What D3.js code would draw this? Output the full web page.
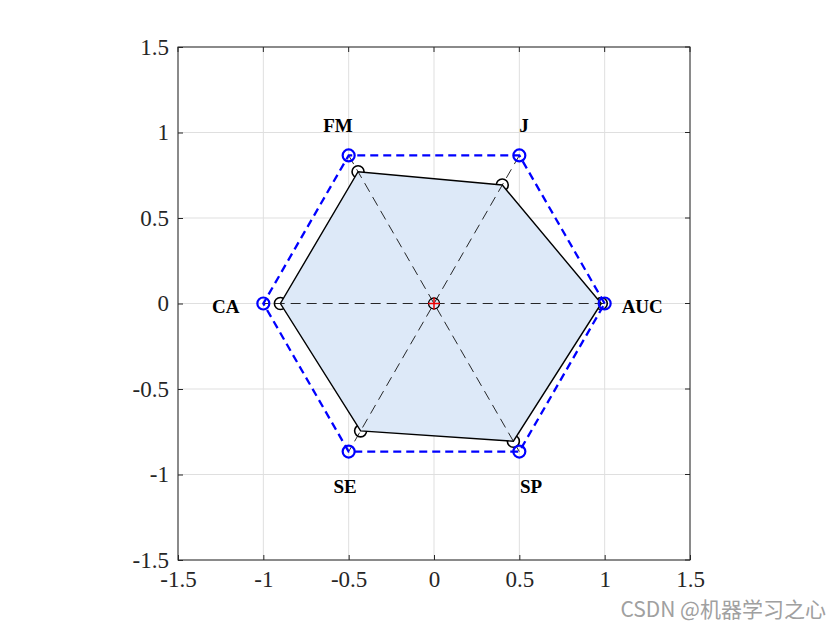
<!DOCTYPE html>
<html><head><meta charset="utf-8">
<script src="https://cdn.jsdelivr.net/npm/d3@7"></script>
<style>body{margin:0;background:#fff}svg{display:block}</style>
</head><body>
<svg id="c" width="840" height="630"></svg>
<script>
const categories = ["AUC","J","FM","CA","SE","SP"];
const angles = [0,60,120,180,240,300];
const values = [0.98,0.80,0.89,0.90,0.86,0.93];
const maxValues = [1,1,1,1,1,1];
const ticks = [-1.5,-1,-0.5,0,0.5,1,1.5];

const FONT = "'Liberation Serif','Times New Roman',Times,serif";
const svg = d3.select("#c");
const L=178,T=47,W=512,H=513;
const x = d3.scaleLinear().domain([-1.5,1.5]).range([L,L+W]);
const y = d3.scaleLinear().domain([-1.5,1.5]).range([T+H,T]);
const rad = a => a*Math.PI/180;
const pt = (r,a) => [x(r*Math.cos(rad(a))), y(r*Math.sin(rad(a)))];

// grid
const g = svg.append("g");
ticks.forEach(t=>{
  g.append("line").attr("x1",x(t)).attr("x2",x(t)).attr("y1",T).attr("y2",T+H).attr("stroke","#dfdfdf").attr("stroke-width",1);
  g.append("line").attr("y1",y(t)).attr("y2",y(t)).attr("x1",L).attr("x2",L+W).attr("stroke","#dfdfdf").attr("stroke-width",1);
});

// black data circle markers (under fill)
const dataPts = values.map((v,i)=>pt(v,angles[i]));
svg.append("g").selectAll("circle").data(dataPts).join("circle")
  .attr("cx",d=>d[0]).attr("cy",d=>d[1]).attr("r",6)
  .attr("fill","none").attr("stroke","#000").attr("stroke-width",1.6);

// filled polygon
svg.append("path").attr("d",d3.line()(dataPts)+"Z")
  .attr("fill","#dde9f8").attr("stroke","#000").attr("stroke-width",1.4);

// dashed spokes
const spokes = svg.append("g");
angles.slice(0,3).forEach(a=>{
  const p1=pt(1,a), p2=pt(1,a+180);
  spokes.append("line").attr("x1",p1[0]).attr("y1",p1[1]).attr("x2",p2[0]).attr("y2",p2[1])
    .attr("stroke","#111").attr("stroke-width",0.9).attr("stroke-dasharray","10,6");
});

// blue dashed hexagon
const maxPts = maxValues.map((v,i)=>pt(v,angles[i]));
svg.append("path").attr("d",d3.line()(maxPts)+"Z")
  .attr("fill","none").attr("stroke","#0000ff").attr("stroke-width",2.3).attr("stroke-dasharray","8,5");
svg.append("g").selectAll("circle").data(maxPts).join("circle")
  .attr("cx",d=>d[0]).attr("cy",d=>d[1]).attr("r",6)
  .attr("fill","none").attr("stroke","#0000ff").attr("stroke-width",2.2);

// center marker
svg.append("circle").attr("cx",x(0)).attr("cy",y(0)).attr("r",5.5).attr("fill","none").attr("stroke","#000").attr("stroke-width",1.3);
svg.append("line").attr("x1",x(0)-6).attr("x2",x(0)+6).attr("y1",y(0)).attr("y2",y(0)).attr("stroke","#e00").attr("stroke-width",1.5);
svg.append("line").attr("x1",x(0)).attr("x2",x(0)).attr("y1",y(0)-6).attr("y2",y(0)+6).attr("stroke","#e00").attr("stroke-width",1.5);

// category labels
categories.forEach((c,i)=>{
  const a=rad(angles[i]);
  const cx=Math.cos(a), sy=Math.sin(a);
  const lx = Math.abs(cx)>0.99 ? 1.22*cx : 1.09*cx + (sy>0 ? -0.018 : 0.024);
  const ly = sy>0.1 ? 1.04 : (sy<-0.1 ? -1.07 : -0.015);
  svg.append("text").attr("x",x(lx)).attr("y",y(ly)).attr("text-anchor","middle").attr("dominant-baseline","central")
    .attr("font-family",FONT).attr("font-weight","bold").attr("font-size",19).text(c);
});

// axes box
svg.append("rect").attr("x",L).attr("y",T).attr("width",W).attr("height",H).attr("fill","none").attr("stroke","#262626").attr("stroke-width",1);
const ax = d3.axisBottom(x).tickValues(ticks).tickFormat(d=>String(d)).tickSizeInner(-5).tickSizeOuter(0).tickPadding(11);
const ay = d3.axisLeft(y).tickValues(ticks).tickFormat(d=>String(d)).tickSizeInner(-5).tickSizeOuter(0).tickPadding(9);
const gx = svg.append("g").attr("transform",`translate(0,${T+H})`).call(ax);
const gy = svg.append("g").attr("transform",`translate(${L},0)`).call(ay);
[gx,gy].forEach(gg=>{
  gg.attr("font-family",null).attr("font-size",null);
  gg.select(".domain").remove();
  gg.selectAll("line").attr("stroke","#262626");
  gg.selectAll("text").attr("font-family",FONT).attr("font-size",23).attr("fill","#262626");
});
// top/right ticks
ticks.forEach(t=>{
  svg.append("line").attr("x1",x(t)).attr("x2",x(t)).attr("y1",T).attr("y2",T+5).attr("stroke","#262626");
  svg.append("line").attr("x1",L+W).attr("x2",L+W-5).attr("y1",y(t)).attr("y2",y(t)).attr("stroke","#262626");
});

// watermark
svg.append("text").attr("x",826).attr("y",617).attr("text-anchor","end").attr("font-family","'Noto Sans CJK SC','Noto Sans',sans-serif").attr("font-size",21).attr("fill","#a0a0a0").text("CSDN @机器学习之心");
</script>
</body></html>
